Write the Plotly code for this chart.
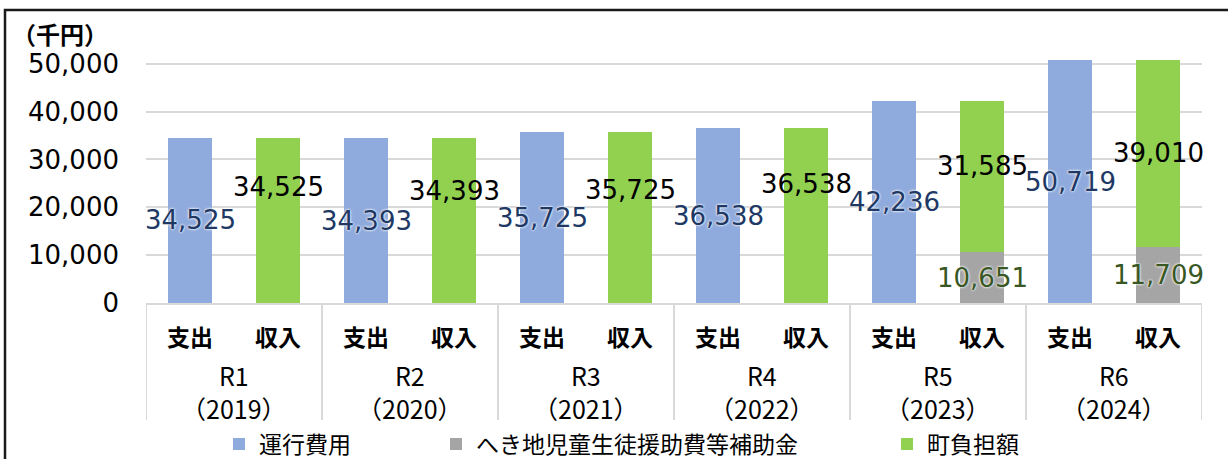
import plotly.graph_objects as go

# Fiscal years (outer axis level) and expense/income split (inner level)
year_codes = ["R1", "R2", "R3", "R4", "R5", "R6"]
year_ad = ["（2019）", "（2020）", "（2021）", "（2022）", "（2023）", "（2024）"]
sides = ["支出", "収入"]

# 千円
operating_cost = [34525, 34393, 35725, 36538, 42236, 50719]   # 運行費用
subsidy = [0, 0, 0, 0, 10651, 11709]                          # へき地児童生徒援助費等補助金
town_share = [34525, 34393, 35725, 36538, 31585, 39010]       # 町負担額

series_names = ["運行費用", "へき地児童生徒援助費等補助金", "町負担額"]
colors = ["#8FAADC", "#A5A5A5", "#92D050"]

# Vertical nudge (px) for the 町負担額 labels
town_label_shift = [33, 30, 28, 32, 10, 1]

JP = "Noto Sans CJK JP"
NUM = "DejaVu Sans"

ML, MR, MT, MB = 146, 26, 59, 156
W, H = 1228, 459
PW, PH = W - ML - MR, H - MT - MB


def px_x(p):
    return (p - ML) / PW


def px_y(p):
    return (H - MB - p) / PH


groups = [f"{c}{a}" for c, a in zip(year_codes, year_ad)]
n_side = len(sides)

fig = go.Figure()
fig.add_bar(x=[groups, [sides[0]] * len(groups)], y=operating_cost,
            name=series_names[0], marker=dict(color=colors[0], line_width=0),
            legend="legend")
fig.add_bar(x=[groups, [sides[1]] * len(groups)], y=subsidy,
            name=series_names[1], marker=dict(color=colors[1], line_width=0),
            legend="legend2")
fig.add_bar(x=[groups, [sides[1]] * len(groups)], y=town_share,
            name=series_names[2], marker=dict(color=colors[2], line_width=0),
            legend="legend3")

annotations = []
shapes = []
glow = "0px 0px 3px #ffffff, 0px 0px 2px #ffffff"
for i in range(len(groups)):
    xe, xi = n_side * i, n_side * i + 1
    # value labels
    annotations.append(dict(
        x=xe, y=operating_cost[i] / 2, xref="x", yref="y",
        text=f"{operating_cost[i]:,}", showarrow=False,
        font=dict(family=NUM, size=26, color="#203864", shadow=glow)))
    if subsidy[i]:
        annotations.append(dict(
            x=xi, y=subsidy[i] / 2, xref="x", yref="y",
            text=f"{subsidy[i]:,}", showarrow=False,
            font=dict(family=NUM, size=26, color="#385723", shadow=glow)))
    annotations.append(dict(
        x=xi, y=subsidy[i] + town_share[i] / 2, xref="x", yref="y",
        yshift=town_label_shift[i],
        text=f"{town_share[i]:,}", showarrow=False,
        font=dict(family=NUM, size=26, color="#000000")))
    # two-level category labels
    for k, s in enumerate(sides):
        annotations.append(dict(
            x=n_side * i + k, y=px_y(336), xref="x", yref="paper",
            yanchor="middle", showarrow=False, text=f"<b>{s}</b>",
            font=dict(family=JP, size=23, color="#000000")))
    xc = n_side * i + (n_side - 1) / 2
    annotations.append(dict(
        x=xc, y=px_y(391), xref="x", yref="paper", yanchor="middle",
        showarrow=False, text=f"{year_codes[i]}<br>{year_ad[i]}",
        font=dict(family=JP, size=25, color="#000000")))

# group dividers below the axis
for b in range(len(groups) + 1):
    xb = n_side * b - 0.5
    shapes.append(dict(type="line", xref="x", yref="paper",
                       x0=xb, x1=xb, y0=px_y(303), y1=px_y(420),
                       line=dict(color="#D9D9D9", width=2)))

# outer frame
shapes.append(dict(type="rect", xref="paper", yref="paper",
                   x0=px_x(5), x1=px_x(1250), y0=px_y(480), y1=px_y(10),
                   line=dict(color="#1a1a1a", width=2.5)))

annotations.append(dict(
    x=px_x(10), y=px_y(34), xref="paper", yref="paper",
    xanchor="left", yanchor="middle", showarrow=False,
    text="<b>（千円）</b>", font=dict(family=JP, size=24, color="#000000")))

legend_base = dict(orientation="h", yanchor="middle", xanchor="left",
                   y=px_y(444), bgcolor="rgba(0,0,0,0)", itemwidth=30,
                   font=dict(family=JP, size=23, color="#000000"))

fig.update_layout(
    width=W, height=H,
    margin=dict(l=ML, r=MR, t=MT, b=MB, autoexpand=False),
    paper_bgcolor="#ffffff", plot_bgcolor="#ffffff",
    barmode="stack", bargap=0.5,
    annotations=annotations,
    shapes=shapes,
    legend=dict(legend_base, x=px_x(219)),
    legend2=dict(legend_base, x=px_x(436)),
    legend3=dict(legend_base, x=px_x(887)),
    xaxis=dict(
        showline=True, linecolor="#D9D9D9", linewidth=2,
        showticklabels=False, showdividers=False, ticks="",
        showgrid=False, range=[-0.5, n_side * len(groups) - 0.5],
    ),
    yaxis=dict(
        range=[0, 51000], dtick=10000, tickformat=",",
        showgrid=True, gridcolor="#D9D9D9", gridwidth=1.5,
        zeroline=False, showline=False, ticks="",
        ticklabelstandoff=26,
        tickfont=dict(family=NUM, size=26, color="#000000"),
    ),
    showlegend=True,
)

fig.write_html("out.html")
